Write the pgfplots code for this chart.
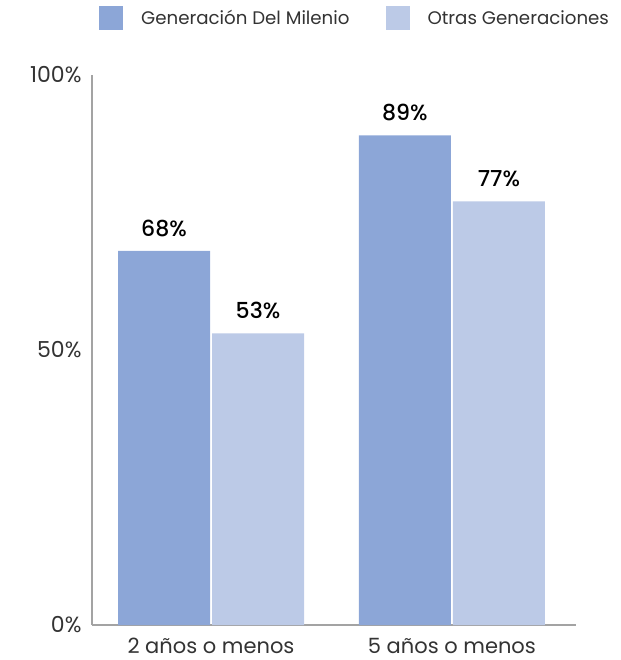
\documentclass[border=0pt]{standalone}
\usepackage{pgfplots}
\pgfplotsset{compat=1.18}
\usepackage{fontspec}
\setmainfont{Poppins}[BoldFont={Poppins Medium}]
\definecolor{c1}{HTML}{8CA6D7}
\definecolor{c2}{HTML}{BCCAE7}
\definecolor{ax}{HTML}{A3A3A3}
\definecolor{txt}{HTML}{333333}
\begin{document}
\begin{tikzpicture}
\begin{axis}[
  name=ax,
  scale only axis, width=484pt, height=550pt,
  ybar=2pt, bar width=92pt,
  xmin=-0.494, xmax=1.515, ymin=0, ymax=100,
  axis x line=bottom, axis y line=left,
  axis line style={-, ax, line width=1.6pt},
  major tick length=0pt,
  /pgf/number format/assume math mode=true,
  ytick={0,50,100}, yticklabels={0\%,50\%,100\%},
  xtick={0,1}, xticklabels={2 años o menos, 5 años o menos},
  tick label style={text=txt},
  yticklabel style={xshift=-7pt, font=\fontsize{22}{24}\selectfont},
  xticklabel style={yshift=-10pt, font=\fontsize{21}{23}\selectfont},
  nodes near coords={\pgfmathprintnumber{\pgfplotspointmeta}\%},
  every node near coord/.append style={anchor=center, yshift=23pt, font=\fontsize{22}{24}\selectfont\bfseries, text=black},
  legend columns=2,
  legend style={draw=none, at={(axis description cs:0,1)}, anchor=west, xshift=7pt, yshift=57pt,
    inner sep=0pt, font=\fontsize{18.2}{20}\selectfont, text=txt,
    /tikz/every odd column/.append style={column sep=16pt},
    /tikz/every even column/.append style={column sep=34pt}},
  legend image code/.code={\fill[#1] (0pt,-12pt) rectangle (24pt,12pt);},
]
\addplot[fill=c1, draw=none] coordinates {(0,68) (1,89)};
\addplot[fill=c2, draw=none] coordinates {(0,53) (1,77)};
\legend{Generación Del Milenio, Otras Generaciones}
\end{axis}
\pgfresetboundingbox
\path (ax.south west) ++(-92pt,-35pt) rectangle ++(620pt,660pt);
\end{tikzpicture}
\end{document}
